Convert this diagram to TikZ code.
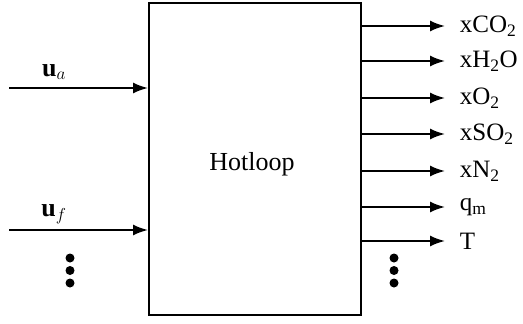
\documentclass[tikz,border=0pt]{standalone}
\usepackage{fontspec}
\setmainfont{Liberation Serif}
\usetikzlibrary{arrows.meta}
\begin{document}
\begin{tikzpicture}[x=1pt,y=-1pt,
  line width=1.8pt,
  arr/.style={-{Latex[length=15pt,width=11pt]}},
  lab/.style={anchor=west,inner sep=0pt,font=\fontsize{25}{30}\selectfont},
  dot/.style={circle,fill=black,inner sep=0pt,minimum size=9pt}]
\useasboundingbox (0,0) rectangle (523,324);
\node[draw,line width=2pt,minimum width=212pt,minimum height=312pt,inner sep=0pt] (box) at (255,159) {};
\node[font=\fontsize{26}{30}\selectfont,inner sep=0pt] (title) at (252,164) {Hotloop};
% inputs
\coordinate (ia) at (9,88);
\coordinate (if) at (9,230);
\draw[arr] (ia) -- (ia -| box.west);
\draw[arr] (if) -- (if -| box.west);
\node[font=\fontsize{26}{30}\selectfont] (la) at (54,72) {$\mathbf{u}_a$};
\node[font=\fontsize{26}{30}\selectfont] (lf) at (54,214) {$\mathbf{u}_f$};
\node[dot] (dl1) at (70,258) {};
\node[dot] (dl2) at (70,270.5) {};
\node[dot] (dl3) at (70,283) {};
% outputs
\foreach \y/\t [count=\i] in {26/{xCO\textsubscript{2}},61/{xH\textsubscript{2}O},98/{xO\textsubscript{2}},134/{xSO\textsubscript{2}},171/{xN\textsubscript{2}},207/{q\textsubscript{m}},241/{T}}{
  \node[lab] (o\i) at (459,\y) {\t};
  \draw[arr] (box.east |- o\i) -- (o\i.west -| 445,0);
}
\node[dot] (dr1) at (394,258) {};
\node[dot] (dr2) at (394,270.5) {};
\node[dot] (dr3) at (394,283) {};
\end{tikzpicture}
\end{document}
